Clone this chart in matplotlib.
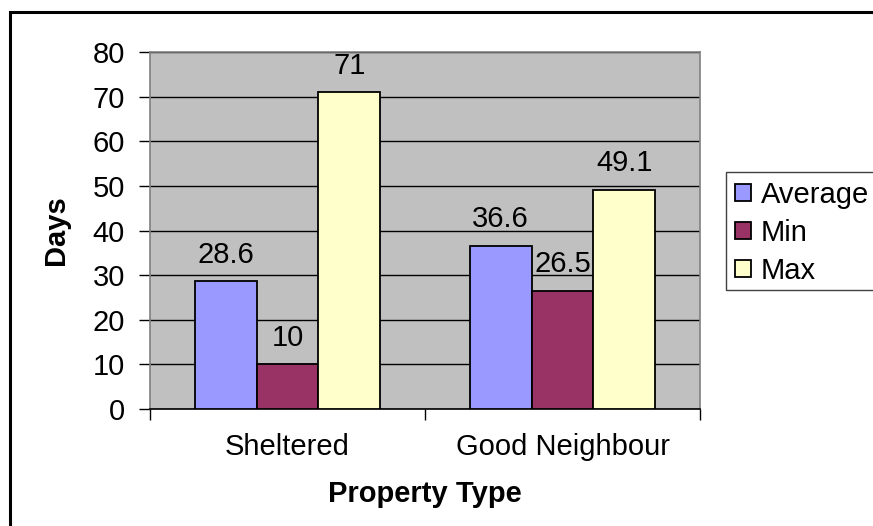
import numpy as np
import matplotlib
matplotlib.use("Agg")
import matplotlib.pyplot as plt
from matplotlib.patches import Rectangle, Patch

categories = ["Sheltered", "Good Neighbour"]
series = ["Average", "Min", "Max"]
average = [28.6, 36.6]
minimum = [10, 26.5]
maximum = [71, 49.1]
labels = [["28.6", "36.6"], ["10", "26.5"], ["71", "49.1"]]
colors = ["#9999FF", "#993366", "#FFFFCC"]

plt.rcParams["font.family"] = ["Liberation Sans", "DejaVu Sans"]
FS = 21

W, H = 873, 526
fig = plt.figure(figsize=(W / 100, H / 100), dpi=100)

# outer chart frame (runs off the right and bottom edges)
fig.patches.append(Rectangle((9.5 / W, -0.1), 1.2, 1 - 12 / H + 0.1,
                             transform=fig.transFigure, fill=False,
                             edgecolor="black", linewidth=2.2, clip_on=False))

ax = fig.add_axes([150 / W, 1 - 409 / H, 550 / W, 357 / H])
ax.set_facecolor("#C0C0C0")

x = np.arange(len(categories))
width = 0.225
for i, (vals, c) in enumerate(zip([average, minimum, maximum], colors)):
    bars = ax.bar(x + (i - 1) * width, vals, width, color=c,
                  edgecolor="black", linewidth=1.3, zorder=3)
    for b, lab in zip(bars, labels[i]):
        ax.annotate(lab, (b.get_x() + b.get_width() / 2, b.get_height()),
                    xytext=(0, 9), textcoords="offset points",
                    ha="center", va="bottom", fontsize=FS, zorder=4)

ax.set_xlim(-0.5, 1.5)
ax.set_ylim(0, 80)
ax.set_yticks(np.arange(0, 81, 10))
ax.yaxis.grid(True, color="black", linewidth=1)
ax.set_axisbelow(True)

ax.set_xticks(x)
ax.set_xticklabels(categories, fontsize=FS)
ax.set_xticks([-0.5, 0.5, 1.5], minor=True)
ax.tick_params(axis="x", which="major", length=0, pad=17)
ax.tick_params(axis="x", which="minor", length=8, width=1, color="black")
ax.tick_params(axis="y", length=8, width=1, pad=10, labelsize=FS)

for s in ["top", "right", "left"]:
    ax.spines[s].set_color("#808080")
    ax.spines[s].set_linewidth(1.2)
ax.spines["bottom"].set_color("black")
ax.spines["bottom"].set_linewidth(1.2)

ax.set_ylabel("Days", fontsize=FS, fontweight="bold", labelpad=16)
ax.set_xlabel("Property Type", fontsize=FS, fontweight="bold", labelpad=14)

# legend box
fig.patches.append(Rectangle((726 / W, 1 - 290 / H), 0.3, 118 / H,
                             transform=fig.transFigure, facecolor="white",
                             edgecolor="#404040", linewidth=1, clip_on=False))
handles = [Patch(facecolor=c, edgecolor="black", linewidth=1.3) for c in colors]
fig.legend(handles, series, loc="upper left",
           bbox_to_anchor=(729 / W, 1 - 175 / H), frameon=False,
           fontsize=FS, handlelength=0.55, handleheight=0.55,
           handletextpad=0.35, labelspacing=0.34, borderpad=0.2,
           borderaxespad=0)

fig.savefig("out.png", dpi=100)
